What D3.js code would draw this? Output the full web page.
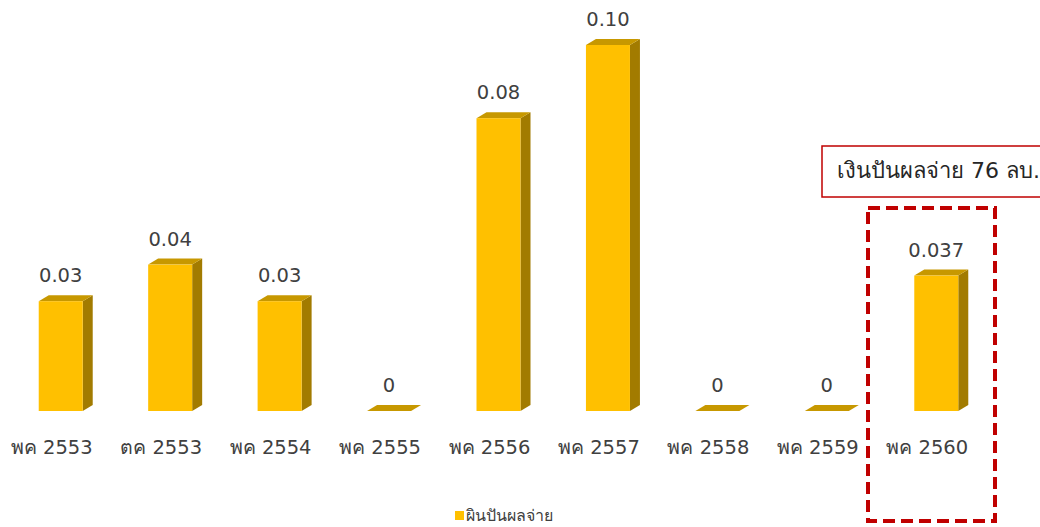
<!DOCTYPE html>
<meta charset="utf-8">
<style>
  body { margin: 0; background: #fff; }
  text { font-family: Tahoma, "DejaVu Sans", "Noto Sans", sans-serif; fill: #404040; }
  .val { font-size: 19.5px; text-anchor: middle; }
  .cat { font-size: 19.5px; text-anchor: middle; }
  .legend { font-size: 16px; }
  .note { font-size: 22px; fill: #262626; }
</style>
<body>
<script src="https://cdn.jsdelivr.net/npm/d3@7"></script>
<script>

const width = 1040, height = 527

// data
const categories = ["พค 2553", "ตค 2553", "พค 2554", "พค 2555", "พค 2556", "พค 2557", "พค 2558", "พค 2559", "พค 2560"]
const values = [0.03, 0.04, 0.03, 0, 0.08, 0.10, 0, 0, 0.037]
const valueLabels = ["0.03", "0.04", "0.03", "0", "0.08", "0.10", "0", "0", "0.037"]
const seriesName = "ผินปันผลจ่าย"
const noteText = "เงินปันผลจ่าย 76 ลบ."

const colors = {front: '#FFC000', top: '#C79800', side: '#A27B00', red: '#C00000'}

const svg = d3.select("body")
  .append("svg")
    .attr("width", width)
    .attr("height", height)

const x = d3.scalePoint()
  .domain(categories)
  .range([6, 991])
  .padding(0.5)

const y = d3.scaleLinear()
  .domain([0, 0.1])
  .range([411, 45])

const barW = 44, dx = 10, dy = 6
const base = y(0)

const data = categories.map((c, i) => ({cat: c, v: values[i], label: valueLabels[i]}))

const bars = svg.selectAll(".bar")
  .data(data)
  .enter().append("g")
    .attr("class", "bar")

// right side
bars.filter(d => d.v > 0).append("path")
  .attr("fill", colors.side)
  .attr("d", d => {
    const r = x(d.cat) + barW/2, t = y(d.v)
    return `M${r},${t}L${r+dx},${t-dy}L${r+dx},${base-dy}L${r},${base}Z`
  })

// top
bars.append("path")
  .attr("fill", colors.top)
  .attr("d", d => {
    const l = x(d.cat) - barW/2, r = x(d.cat) + barW/2, t = y(d.v)
    return `M${l},${t}L${l+dx},${t-dy}L${r+dx},${t-dy}L${r},${t}Z`
  })

// front
bars.filter(d => d.v > 0).append("rect")
  .attr("fill", colors.front)
  .attr("x", d => x(d.cat) - barW/2)
  .attr("y", d => y(d.v))
  .attr("width", barW)
  .attr("height", d => base - y(d.v))

bars.append("text")
  .attr("class", "val")
  .attr("x", d => x(d.cat))
  .attr("y", d => y(d.v) - 19)
  .text(d => d.label)

// category labels
svg.selectAll(".cat")
  .data(categories)
  .enter().append("text")
    .attr("class", "cat")
    .attr("x", d => x(d) - 9)
    .attr("y", 454)
    .text(d => d)

// legend
svg.append("rect")
  .attr("x", 455)
  .attr("y", 511)
  .attr("width", 9)
  .attr("height", 9)
  .attr("fill", colors.front)

svg.append("text")
  .attr("class", "legend")
  .attr("x", 466)
  .attr("y", 521)
  .text(seriesName)

// highlight box
svg.append("rect")
  .attr("x", 868)
  .attr("y", 208)
  .attr("width", 127)
  .attr("height", 313)
  .attr("fill", "none")
  .attr("stroke", colors.red)
  .attr("stroke-width", 4)
  .attr("stroke-dasharray", "12,6")

// callout
svg.append("rect")
  .attr("x", 822)
  .attr("y", 146)
  .attr("width", 240)
  .attr("height", 51)
  .attr("fill", "white")
  .attr("stroke", colors.red)
  .attr("stroke-width", 1.5)

svg.append("text")
  .attr("class", "note")
  .attr("x", 837)
  .attr("y", 178)
  .text(noteText)

</script>
</body>
